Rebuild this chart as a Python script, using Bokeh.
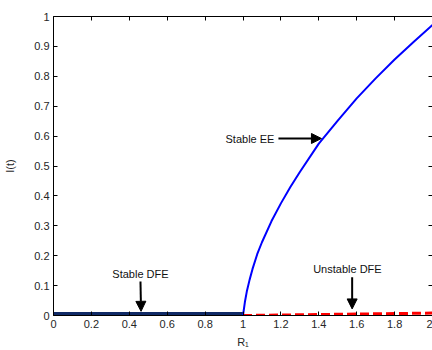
from bokeh.plotting import figure
from bokeh.models import (LinearAxis, FixedTicker, CustomJSTickFormatter, Arrow,
                          NormalHead, Label, Range1d)
from bokeh.embed import file_html
from bokeh.resources import INLINE

# ---- data ----
x_ticks = [0, 0.2, 0.4, 0.6, 0.8, 1.0, 1.2, 1.4, 1.6, 1.8, 2.0]
y_ticks = [0, 0.1, 0.2, 0.3, 0.4, 0.5, 0.6, 0.7, 0.8, 0.9, 1.0]

stable_dfe_r = [0.0, 1.0]
stable_dfe_i = [0.005, 0.005]

unstable_dfe_r = [1.0, 2.0]
unstable_dfe_i = [0.0, 0.008]

stable_ee_r = [1.0, 1.01, 1.02, 1.035, 1.05, 1.075, 1.1, 1.15, 1.2, 1.25, 1.3,
               1.4, 1.5, 1.6, 1.7, 1.8, 1.9, 2.0]
stable_ee_i = [0.0, 0.045, 0.08, 0.12, 0.155, 0.205, 0.245, 0.315, 0.375, 0.43, 0.48,
               0.575, 0.652, 0.726, 0.793, 0.856, 0.915, 0.972]

FONT = "Liberation Sans"
TXT = "#262626"

p = figure(width=432, height=350, output_backend="svg", toolbar_location=None,
           x_range=Range1d(0, 2), y_range=Range1d(0, 1))
p.min_border_left = 53
p.min_border_right = 0
p.min_border_top = 16
p.min_border_bottom = 35
p.outline_line_color = None
p.xgrid.visible = False
p.ygrid.visible = False
p.background_fill_color = "white"
p.border_fill_color = "white"

fmt = CustomJSTickFormatter(code="return String(Math.round(tick*10)/10);")
blank = CustomJSTickFormatter(code="return '';")

def style(ax, ticks, labels=True):
    ax.ticker = FixedTicker(ticks=ticks)
    ax.major_tick_in = 4
    ax.major_tick_out = 0
    ax.minor_tick_line_color = None
    ax.axis_line_color = "black"
    ax.major_tick_line_color = "black"
    ax.major_label_text_font = FONT
    ax.major_label_text_color = TXT
    ax.major_label_text_font_size = "11px"
    if labels:
        ax.formatter = fmt
    else:
        ax.formatter = blank
        ax.major_label_standoff = 0

xa = p.xaxis[0]
style(xa, x_ticks)
xa.major_label_standoff = 4
xa.axis_label = "R₁"
xa.axis_label_text_font = FONT
xa.axis_label_text_font_size = "11px"
xa.axis_label_text_font_style = "normal"
xa.axis_label_text_color = TXT
xa.axis_label_standoff = 5

ya = p.yaxis[0]
style(ya, y_ticks)
ya.major_label_standoff = 4
ya.axis_label = "I(t)"
ya.axis_label_text_font = FONT
ya.axis_label_text_font_size = "11px"
ya.axis_label_text_font_style = "normal"
ya.axis_label_text_color = TXT
ya.axis_label_standoff = 15

top = LinearAxis()
style(top, x_ticks, labels=False)
p.add_layout(top, "above")

right = LinearAxis()
style(right, y_ticks, labels=False)
right.axis_line_alpha = 0
p.add_layout(right, "right")

# ---- curves ----
p.line(stable_dfe_r, stable_dfe_i, line_color="#102a66", line_width=4)
p.line(unstable_dfe_r, unstable_dfe_i, line_color="#ff0000", line_width=3, line_dash="9 4")
p.line(stable_ee_r, stable_ee_i, line_color="#0000ff", line_width=2)

# ---- annotations ----
def label(x, y, text, align):
    p.add_layout(Label(x=x, y=y, text=text, text_align=align, text_baseline="middle",
                       text_font=FONT, text_font_size="11px", text_color="#111111"))

def arrow(x0, y0, x1, y1):
    p.add_layout(Arrow(end=NormalHead(size=10, fill_color="black", line_color="black"),
                       x_start=x0, y_start=y0, x_end=x1, y_end=y1,
                       line_width=2, line_color="black"))

label(1.166, 0.589, "Stable EE", "right")
arrow(1.187, 0.592, 1.414, 0.592)

label(0.459, 0.139, "Stable DFE", "center")
arrow(0.459, 0.114, 0.462, 0.014)

label(1.551, 0.154, "Unstable DFE", "center")
arrow(1.576, 0.128, 1.576, 0.022)

open("out.html", "w").write(file_html(p, INLINE))
